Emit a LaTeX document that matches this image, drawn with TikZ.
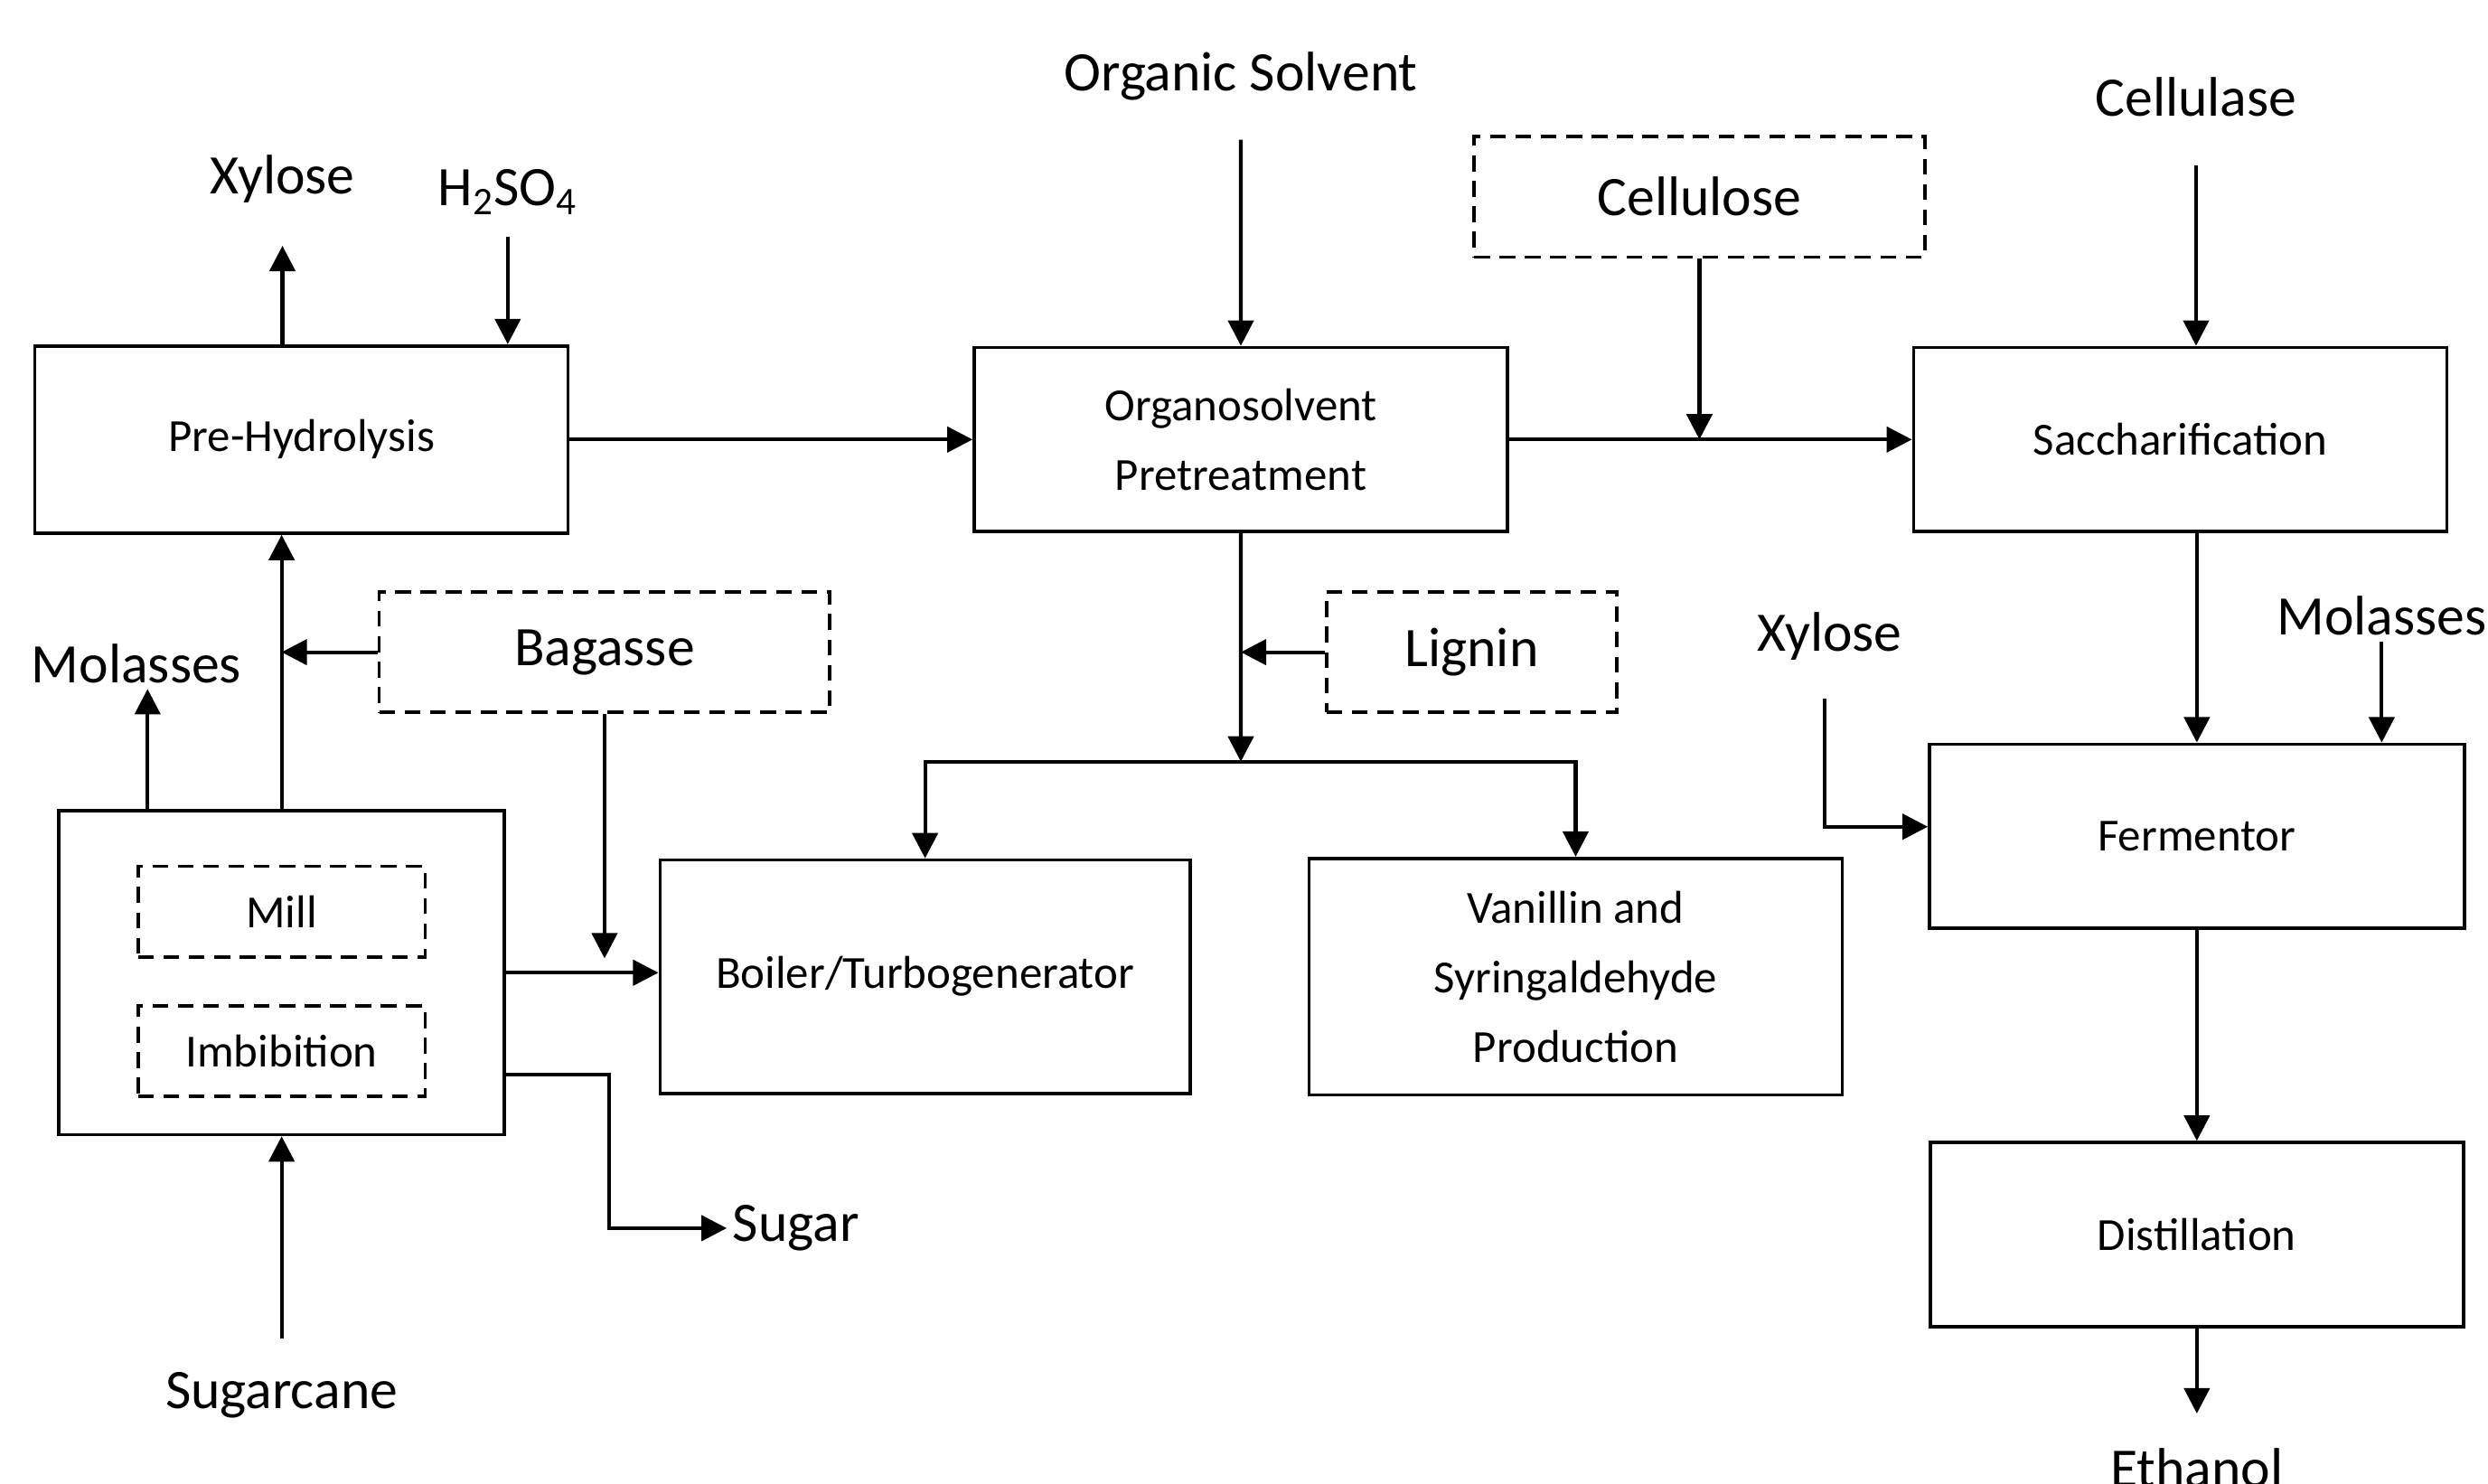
\documentclass[tikz,border=0pt]{standalone}
\usepackage{fontspec}
\setmainfont{Carlito}
\usetikzlibrary{arrows.meta,positioning}
\newcommand{\labelsize}{\fontsize{20}{24}\selectfont}
\newcommand{\blocksize}{\fontsize{16.5}{25}\selectfont}
\tikzstyle{block} = [rectangle, draw, line width=1.2pt, align=center, minimum width=6.72cm, minimum height=2.32cm, font=\blocksize]
\tikzstyle{dblock} = [block, dash pattern=on 0.2cm off 0.12cm, minimum width=5.68cm, minimum height=1.52cm, font=\labelsize]
\tikzstyle{stream} = [font=\labelsize, inner sep=2pt]
\tikzstyle{line} = [draw, line width=1.35pt, -{Triangle[length=0.32cm, width=0.32cm]}]
\begin{document}
\begin{tikzpicture}[node distance=11.84cm]
    \useasboundingbox (0,0) rectangle (31.36,18.70);
    \clip (0,0) rectangle (31.36,18.70);
    % Place nodes
    \node [block, minimum height=2.36cm] (preh) at (3.80,13.16) {Pre-Hydrolysis};
    \node [block, right of=preh] (organo) {Organosolvent\\Pretreatment};
    \node [block, right of=organo] (sacch) {Saccharification};
    \node [block, minimum width=5.62cm, minimum height=4.08cm] (mill) at (3.55,6.44) {};
    \node [dblock, minimum width=3.62cm, minimum height=1.14cm, font=\blocksize] (millin) at (3.55,7.21) {Mill};
    \node [dblock, minimum width=3.62cm, minimum height=1.14cm, font=\blocksize, below of=millin, node distance=1.76cm] (imbib) {Imbibition};
    \node [dblock] (bagasse) at (7.62,10.48) {Bagasse};
    \node [dblock, minimum width=3.66cm] (lignin) at (18.55,10.48) {Lignin};
    \node [dblock] (cellulose) at (21.42,16.22) {Cellulose};
    \node [block, minimum width=6.68cm, minimum height=2.94cm] (boiler) at (11.66,6.39) {Boiler/Turbogenerator};
    \node [block, minimum height=2.98cm, right of=boiler, node distance=8.2cm] (vanillin) {Vanillin and\\Syringaldehyde\\Production};
    \node [block, minimum width=6.74cm] (ferm) at (27.69,8.16) {Fermentor};
    \node [block, below of=ferm, node distance=5.02cm] (dist) {Distillation};
    % Streams
    \node [stream] (xylL) at (3.56,16.44) {Xylose};
    \node [stream] (acid) at (6.40,16.28) {H\textsubscript{2}SO\textsubscript{4}};
    \node [stream] (solvent) at (15.64,17.74) {Organic Solvent};
    \node [stream] (cellulase) at (27.68,17.48) {Cellulase};
    \node [stream] (molL) at (1.72,10.34) {Molasses};
    \node [stream] (cane) at (3.55,1.12) {Sugarcane};
    \node [stream, anchor=west] (sugar) at (9.16,3.22) {Sugar};
    \node [stream] (xylR) at (23.06,10.68) {Xylose};
    \node [stream] (molR) at (30.02,10.94) {Molasses};
    \node [stream] (ethanol) at (27.69,0.2) {Ethanol};
    \coordinate (split) at (15.64,9.1);
    \coordinate (xylin) at (23.0,9.9);
    % Draw edges
    \path [line, shorten >=0.46cm] (preh.north -| xylL) -- (xylL);
    \path [line, shorten <=0.2cm] (acid) -- (acid |- preh.north);
    \path [line] (preh) -- (organo);
    \path [line, shorten <=0.42cm] (solvent) -- (organo);
    \path [line] (organo) -- (sacch);
    \path [line] (cellulose) -- (cellulose |- organo.east);
    \path [line, shorten <=0.54cm] (cellulase) -- (cellulase |- sacch.north);
    \path [line] (sacch.south -| ferm) -- (ferm);
    \path [line] (molR) -- (molR |- ferm.north);
    \path [line] (xylin) |- ([yshift=0.12cm]ferm.west);
    \path [line] (ferm) -- (dist);
    \path [line, shorten >=0.36cm] (dist) -- (ethanol);
    \path [line] (organo) -- (split);
    \path [line] (split) -| (boiler);
    \path [line] (split) -| (vanillin);
    \path [line] (lignin) -- (lignin -| organo);
    \path [line] (mill.north) -- (mill.north |- preh.south);
    \path [line] ([xshift=0.14cm]mill.north -| molL) -- ([xshift=0.14cm]molL.south);
    \path [line] (bagasse) -- (bagasse -| mill);
    \path [line] (bagasse) -- ([yshift=0.18cm]bagasse |- mill.east);
    \path [line] (mill.east) -- (mill.east -| boiler.west);
    \path [line] ([yshift=-1.28cm]mill.east) -- ++(1.3,0) |- (sugar);
    \path [line, shorten <=0.34cm] (cane) -- (mill);
\end{tikzpicture}
\end{document}
